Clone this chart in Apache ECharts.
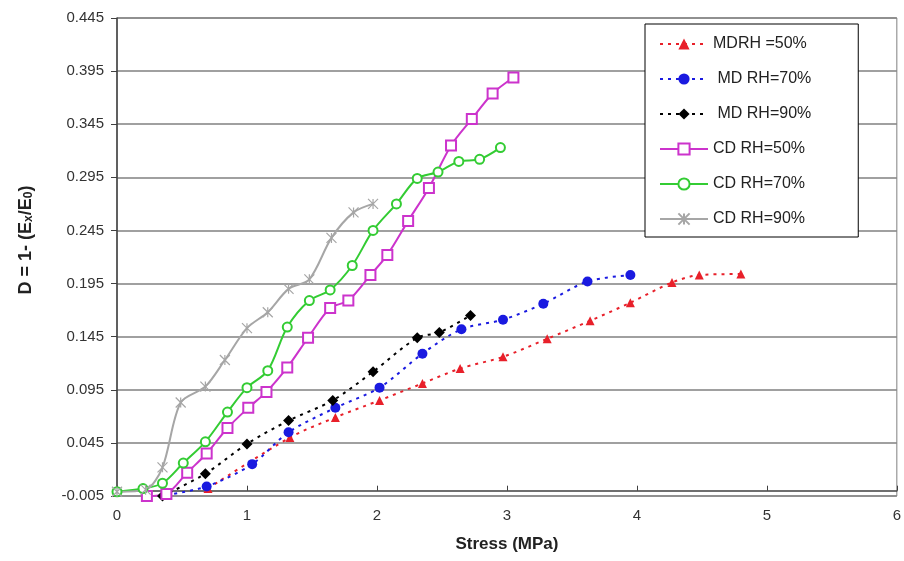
<!DOCTYPE html>
<html>
<head>
<meta charset="utf-8">
<script src="https://cdn.jsdelivr.net/npm/echarts@6/dist/echarts.min.js"></script>
<style>
  html, body { margin: 0; padding: 0; background: #fff; }
  #chart { width: 904px; height: 561px; }
</style>
</head>
<body>
<div id="chart"></div>
<script>
// data: [stress MPa, D]
const mdRh50 = [[0.70, 0.002], [1.33, 0.050], [1.68, 0.069], [2.02, 0.085], [2.35, 0.101],
  [2.64, 0.115], [2.97, 0.126], [3.31, 0.143], [3.64, 0.160], [3.95, 0.177],
  [4.27, 0.196], [4.48, 0.203], [4.80, 0.204]];
const mdRh70 = [[0.38, -0.004], [0.69, 0.004], [1.04, 0.025], [1.32, 0.055], [1.68, 0.078],
  [2.02, 0.097], [2.35, 0.129], [2.65, 0.152], [2.97, 0.161], [3.28, 0.176],
  [3.62, 0.197], [3.95, 0.203]];
const mdRh90 = [[0.35, -0.005], [0.68, 0.016], [1.00, 0.044], [1.32, 0.066], [1.66, 0.085],
  [1.97, 0.112], [2.31, 0.144], [2.48, 0.149], [2.72, 0.165]];
const cdRh50 = [[0.23, -0.005], [0.38, -0.003], [0.54, 0.017], [0.69, 0.035], [0.85, 0.059],
  [1.01, 0.078], [1.15, 0.093], [1.31, 0.116], [1.47, 0.144], [1.64, 0.172],
  [1.78, 0.179], [1.95, 0.203], [2.08, 0.222], [2.24, 0.254], [2.40, 0.285],
  [2.57, 0.325], [2.73, 0.350], [2.89, 0.374], [3.05, 0.389]];
const cdRh70 = [[0.00, -0.001], [0.20, 0.002], [0.35, 0.007], [0.51, 0.026], [0.68, 0.046],
  [0.85, 0.074], [1.00, 0.097], [1.16, 0.113], [1.31, 0.154], [1.48, 0.179],
  [1.64, 0.189], [1.81, 0.212], [1.97, 0.245], [2.15, 0.270], [2.31, 0.294],
  [2.47, 0.300], [2.63, 0.310], [2.79, 0.312], [2.95, 0.323]];
const cdRh90 = [[0.00, -0.001], [0.22, 0.001], [0.35, 0.022], [0.49, 0.083], [0.68, 0.098],
  [0.83, 0.123], [1.00, 0.153], [1.16, 0.168], [1.32, 0.190], [1.48, 0.199],
  [1.65, 0.238], [1.82, 0.262], [1.97, 0.270]];

const seriesNames = ['MDRH =50%', ' MD RH=70%', ' MD RH=90%', 'CD RH=50%', 'CD RH=70%', 'CD RH=90%'];
const yTicks = [-0.005, 0.045, 0.095, 0.145, 0.195, 0.245, 0.295, 0.345, 0.395, 0.445];

const starPath = 'path://M0,0L10,10M10,0L0,10M5,0L5,10';

const dashedSeries = (name, data, color, symbol, size) => ({
  name: name,
  type: 'line',
  data: data,
  smooth: 0.3,
  symbol: symbol,
  symbolSize: size,
  lineStyle: { color: color, width: 2, type: [3, 5] },
  itemStyle: { color: color }
});

const solidSeries = (name, data, color, symbol, size) => ({
  name: name,
  type: 'line',
  data: data,
  smooth: 0.3,
  symbol: symbol,
  symbolSize: size,
  lineStyle: { color: color, width: 2 },
  itemStyle: { color: color, borderColor: color, borderWidth: 1.2 }
});

const chart = echarts.init(document.getElementById('chart'));
chart.setOption({
  animation: false,
  backgroundColor: '#fff',
  grid: { left: 117, right: 6, top: 18, bottom: 65, show: true, borderColor: '#808080', borderWidth: 1 },
  legend: {
    orient: 'vertical',
    left: 645,
    top: 24,
    padding: [12, 47, 10, 14],
    itemWidth: 48,
    itemHeight: 14,
    itemGap: 19,
    backgroundColor: '#fff',
    borderColor: '#000',
    borderWidth: 1,
    textStyle: { fontFamily: 'Liberation Sans', fontSize: 16, color: '#222' },
    data: seriesNames
  },
  xAxis: {
    type: 'value',
    min: 0,
    max: 6,
    interval: 1,
    name: 'Stress (MPa)',
    nameLocation: 'middle',
    nameGap: 40,
    nameTextStyle: { fontFamily: 'Liberation Sans', fontSize: 17, fontWeight: 'bold', color: '#222' },
    axisLine: { lineStyle: { color: '#404040', width: 1.5 } },
    axisTick: { show: true, inside: true, length: 5, lineStyle: { color: '#404040' } },
    axisLabel: { fontFamily: 'Liberation Sans', fontSize: 15, color: '#333', margin: 12 },
    splitLine: { show: false }
  },
  yAxis: {
    type: 'value',
    min: yTicks[0],
    max: yTicks[yTicks.length - 1],
    interval: 0.05,
    name: 'D = 1- (E{s|x}/E{s|0})',
    nameLocation: 'middle',
    nameRotate: 90,
    nameGap: 82,
    nameTextStyle: {
      fontFamily: 'Liberation Sans', fontSize: 18, fontWeight: 'bold', color: '#222',
      padding: [0, 0, 0, 34],
      rich: { s: { fontFamily: 'Liberation Sans', fontSize: 12, fontWeight: 'bold', color: '#222', verticalAlign: 'bottom', padding: [6, 0, 0, 0] } }
    },
    axisLine: { show: true, lineStyle: { color: '#404040', width: 1.5 } },
    axisTick: { show: true, length: 6, lineStyle: { color: '#404040' } },
    axisLabel: {
      fontFamily: 'Liberation Sans', fontSize: 15, color: '#333', margin: 13,
      formatter: v => v.toFixed(3)
    },
    splitLine: { show: true, lineStyle: { color: '#808080', width: 1.5 } }
  },
  series: [
    dashedSeries(seriesNames[0], mdRh50, '#e8202a', 'triangle', 9),
    dashedSeries(seriesNames[1], mdRh70, '#1a1ae0', 'circle', 10),
    dashedSeries(seriesNames[2], mdRh90, '#000000', 'diamond', 11),
    solidSeries(seriesNames[3], cdRh50, '#cc33cc', 'emptyRect', 10),
    solidSeries(seriesNames[4], cdRh70, '#33cc33', 'emptyCircle', 9),
    solidSeries(seriesNames[5], cdRh90, '#a6a6a6', starPath, 10)
  ]
});
</script>
</body>
</html>
